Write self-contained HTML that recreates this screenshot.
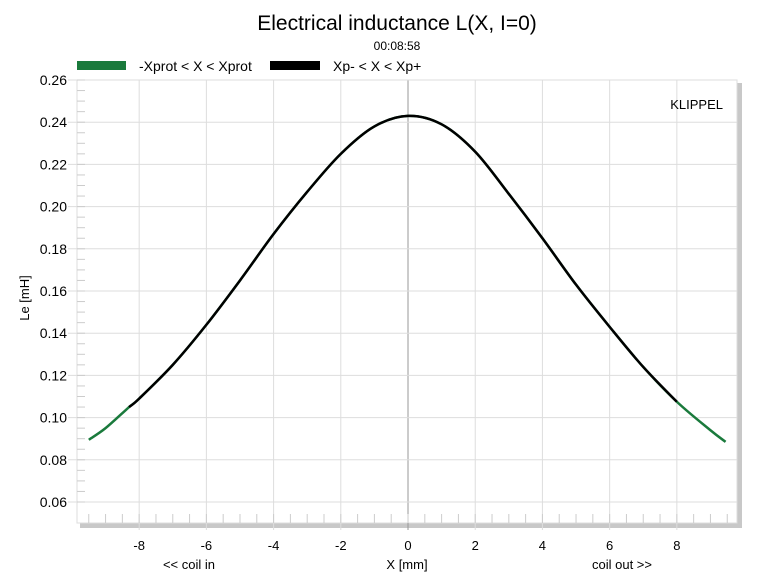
<!DOCTYPE html>
<html><head><meta charset="utf-8"><style>
body{margin:0;background:#fff;font-family:"Liberation Sans",Arial,sans-serif;}
svg text{font-family:"Liberation Sans",Arial,sans-serif;}
</style></head><body>
<svg id="chart" width="765" height="581" viewBox="0 0 765 581">
<text x="397" y="30" font-size="21" text-anchor="middle">Electrical inductance L(X, I=0)</text>
<text x="397" y="50" font-size="12" text-anchor="middle">00:08:58</text>
<rect x="77" y="61" width="49" height="9" fill="#1a7a3c"/>
<text x="139" y="71" font-size="14">-Xprot &lt; X &lt; Xprot</text>
<rect x="270" y="61" width="50" height="9" fill="#000"/>
<text x="333" y="71" font-size="14">Xp- &lt; X &lt; Xp+</text>
<rect x="80" y="83" width="662" height="445" fill="#c8c8c8"/>
<rect x="77" y="80" width="660" height="443" fill="#fff" stroke="#ddd"/>
<g id="grid"></g><g id="ticks"></g><g id="series"></g>
<text x="723" y="109" font-size="13" text-anchor="end">KLIPPEL</text>
<text x="29" y="298" font-size="13" text-anchor="middle" transform="rotate(-90 29 298)">Le [mH]</text>
<text x="189" y="569" font-size="13" text-anchor="middle">&lt;&lt; coil in</text>
<text x="407" y="569" font-size="13" text-anchor="middle">X [mm]</text>
<text x="622" y="569" font-size="13" text-anchor="middle">coil out &gt;&gt;</text>
</svg>
<script>
const xTicks=[-8,-6,-4,-2,0,2,4,6,8];
const yTicks=[0.06,0.08,0.10,0.12,0.14,0.16,0.18,0.20,0.22,0.24,0.26];
const xVals=[-9.5,-9,-8.3,-8,-7,-6,-5,-4,-3,-2,-1,0,1,2,3,4,5,6,7,8,9,9.45];
const leVals=[0.0895,0.095,0.105,0.109,0.125,0.144,0.165,0.187,0.207,0.225,0.238,0.243,0.239,0.226,0.206,0.185,0.163,0.143,0.124,0.1075,0.094,0.0885];
const xpMin=-8.3, xpMax=8.0;
const NS="http://www.w3.org/2000/svg";
const X0=-9.85,X1=9.79,PL=77,PR=737,Y0=0.06,Y1=0.26,PB=502,PT=80;
function sx(v){return PL+(v-X0)/(X1-X0)*(PR-PL);}
function sy(v){return PB-(v-Y0)/(Y1-Y0)*(PB-PT);}
function mk(t,a,p){const e=document.createElementNS(NS,t);for(const k in a)e.setAttribute(k,a[k]);p.appendChild(e);return e;}
const grid=document.getElementById('grid'),ticks=document.getElementById('ticks'),ser=document.getElementById('series');
xTicks.forEach(v=>{
 const l=mk('line',{x1:sx(v),x2:sx(v),y1:PT,y2:530,stroke:v===0?'#999':'#ddd','stroke-width':1},grid);
 
 
 const t=mk('text',{x:sx(v),y:550,'font-size':13,'text-anchor':'middle'},ticks);
 t.textContent=String(v);
 
 
});
yTicks.forEach(v=>{
 const l=mk('line',{x1:68,x2:PR,y1:sy(v),y2:sy(v),stroke:'#ddd','stroke-width':1},grid);
 
 
 const t=mk('text',{x:67,y:sy(v)+5,'font-size':14,'text-anchor':'end'},ticks);
 t.textContent=v.toFixed(2);
 
 
});
for(let v=0.06;v<0.2601;v+=0.005){const m=mk('line',{x1:PL,x2:PL+8,y1:sy(v),y2:sy(v),stroke:'#ccc'},ticks);
 
 }
for(let v=-9.5;v<9.8;v+=0.5){const m=mk('line',{x1:sx(v),x2:sx(v),y1:514,y2:523,stroke:'#ccc'},ticks);
 
 }
function pathFor(pts){let d='M'+pts[0][0]+','+pts[0][1];
 for(let i=0;i<pts.length-1;i++){const p0=pts[Math.max(0,i-1)],p1=pts[i],p2=pts[i+1],p3=pts[Math.min(pts.length-1,i+2)];
 d+=' C'+(p1[0]+(p2[0]-p0[0])/6)+','+(p1[1]+(p2[1]-p0[1])/6)+' '+(p2[0]-(p3[0]-p1[0])/6)+','+(p2[1]-(p3[1]-p1[1])/6)+' '+p2[0]+','+p2[1];}
 return d;}
const all=xVals.map((x,i)=>[sx(x),sy(leVals[i])]);
const g=mk('path',{d:pathFor(all),fill:'none',stroke:'#1a7a3c','stroke-width':2.5},ser);


const inner=xVals.map((x,i)=>[x,leVals[i]]).filter(p=>p[0]>=xpMin&&p[0]<=xpMax).map(p=>[sx(p[0]),sy(p[1])]);
const b=mk('path',{d:pathFor(inner),fill:'none',stroke:'#000','stroke-width':2.5},ser);


</script>
</body></html>
